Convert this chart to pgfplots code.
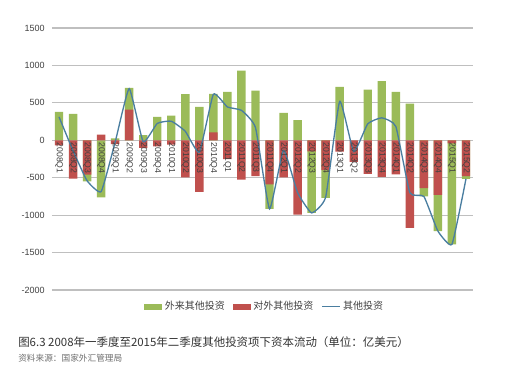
\documentclass[border=0pt]{standalone}
\usepackage{fontspec}
\setmainfont{Liberation Sans}
\newfontfamily\cjk{Noto Sans CJK SC}
\usepackage{pgfplots}
\usepackage{pgfplotstable}
\pgfplotsset{compat=1.18}
\definecolor{cgreen}{RGB}{155,187,89}
\definecolor{cred}{RGB}{192,80,77}
\definecolor{cline}{RGB}{74,126,160}
\definecolor{cgrid}{RGB}{191,191,191}
\definecolor{ctext}{RGB}{64,64,64}
\pgfplotstableread{
x g r l
0 380 -67 313
1 353 -512 -140
2 -548 -460 -540
3 -762 76 -686
4 25 -50 -25
5 700 410 690
6 70 -100 -20
7 313 -80 225
8 330 -57 255
9 615 -495 120
10 446 -690 -160
11 620 107 615
12 647 -250 445
13 932 -525 400
14 665 -480 170
15 -917 -590 -917
16 366 -495 -135
17 268 -994 -700
18 -970 -147 -970
19 -770 -400 -760
20 714 -150 520
21 0 -290 -150
22 677 -450 220
23 789 -490 300
24 647 -455 185
25 490 -1170 -700
26 -750 -640 -750
27 -1213 -730 -1213
28 -1390 -40 -1390
29 -515 -480 -515
}\data
\begin{document}
\begin{tikzpicture}[x=1pt,y=1pt]
\path[use as bounding box] (0,0) rectangle (390.75,273);
\pgfplotsset{common/.style={
  at={(39pt,55.5pt)}, anchor=south west,
  width=315.75pt, height=196.5pt, scale only axis,
  xmin=-0.5, xmax=29.5, ymin=-2000, ymax=1500,
  major tick length=0pt, clip=false}}
\begin{axis}[common,
  axis x line=middle, axis y line=left,
  x axis line style={draw=none},
  y axis line style={draw=none},
  ytick={-2000,-1500,-1000,-500,0,500,1000,1500},
  ymajorgrids, grid style={draw=cgrid, line width=0.8pt},
  xtick=\empty,
  yticklabel style={font=\fontsize{6.75}{8}\selectfont, text=ctext, xshift=-2pt},
  /pgf/number format/assume math mode=true,
  /pgf/number format/1000 sep={},
  legend columns=3,
  legend style={at={(0.506,-0.064)}, anchor=center, draw=none, fill=none,
    font=\cjk\fontsize{7.5}{9}\selectfont, text=ctext,
    /tikz/every even column/.append style={column sep=4pt}},
]
\addplot[ybar, bar width=0.6, bar shift=0pt, fill=cgreen, draw=none,
  legend image code/.code={\fill[cgreen] (0pt,-2.2pt) rectangle (13.5pt,2.3pt);}]
  table[x=x,y=g]{\data};
\addlegendentry{外来其他投资}
\addplot[ybar, bar width=0.6, bar shift=0pt, fill=cred, draw=none,
  legend image code/.code={\fill[cred] (0pt,-2.2pt) rectangle (13.5pt,2.3pt);}]
  table[x=x,y=r]{\data};
\addlegendentry{对外其他投资}
\addplot[cline, line width=1pt, smooth, tension=0.25, mark=none,
  legend image code/.code={\draw[cline, line width=0.8pt] (0pt,0pt) -- (13.5pt,0pt);}]
  table[x=x,y=l]{\data};
\addlegendentry{其他投资}
\end{axis}
\begin{axis}[common,
  axis x line=middle, axis y line=left,
  x axis line style={draw=none},
  y axis line style={draw=none},
  ytick=\empty,
  xtick={0,...,29},
  xticklabels={2008Q1,2008Q2,2008Q3,2008Q4,2009Q1,2009Q2,2009Q3,2009Q4,2010Q1,2010Q2,2010Q3,2010Q4,2011Q1,2011Q2,2011Q3,2011Q4,2012Q1,2012Q2,2012Q3,2012Q4,2013Q1,2013Q2,2013Q3,2013Q4,2014Q1,2014Q2,2014Q3,2014Q4,2015Q1,2015Q2},
  xticklabel style={rotate=-90, anchor=west, font=\fontsize{6.5}{7}\selectfont, text=ctext, inner sep=1.5pt},
]
\end{axis}
\node[anchor=west, inner sep=0pt, text={rgb,255:red,51;green,51;blue,51}, font=\cjk\fontsize{8.6}{10}\selectfont] at (13.5,16.7) {图6.3 2008年一季度至2015年二季度其他投资项下资本流动（单位：亿美元）};
\node[anchor=west, inner sep=0pt, text={rgb,255:red,110;green,110;blue,110}, font=\cjk\fontsize{6.5}{8}\selectfont] at (13.5,4) {资料来源：国家外汇管理局};
\end{tikzpicture}
\end{document}
